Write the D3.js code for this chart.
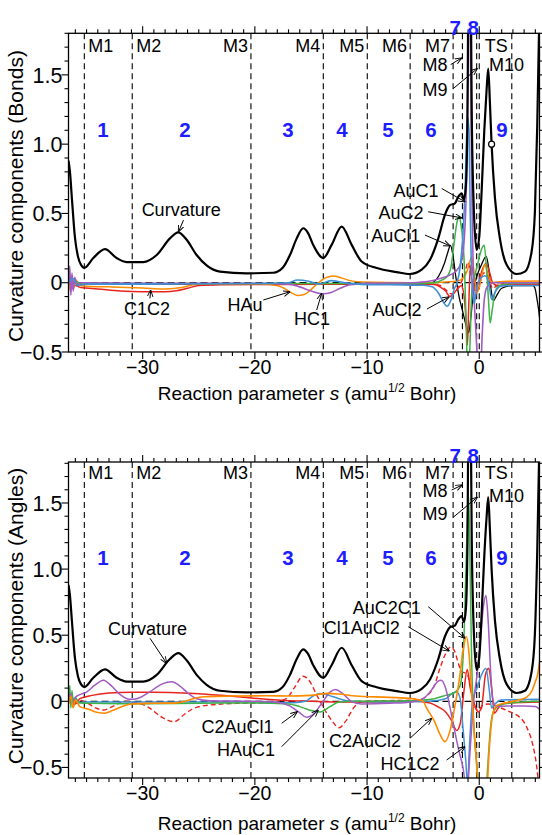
<!DOCTYPE html>
<html><head><meta charset="utf-8">
<script src="https://cdn.jsdelivr.net/npm/d3@7"></script>
<style>
body{margin:0;background:#fff;}
svg{display:block;font-family:"Liberation Sans",Arial,Helvetica,sans-serif;}
</style></head><body>
<svg id="chart" width="542" height="835"></svg>
<script>
// ---------------- data ----------------
const xDomain = [-36.61, 5.37];
const xMajorTicks = [-30, -20, -10, 0];
const xTickLabels = ["\u221230", "\u221220", "\u221210", "0"];
const yMajorTicks = [-0.5, 0, 0.5, 1.0, 1.5];
const yTickLabels = ["\u22120.5", "0", "0.5", "1.0", "1.5"];

const stationS = [-35.2, -30.93, -20.35, -13.9, -9.98, -6.16, -2.33, -1.5, -0.23, 0, 2.9];
const stationNames = ["M1","M2","M3","M4","M5","M6","M7","M8","M9","TS","M10"];
const regionNames = ["1","2","3","4","5","6","7","8","9"];
const regionS = [-33.54, -26.23, -17.05, -12.24, -8.14, -4.3, -2.15, -0.55, 2.02];

// scalar curvature (same in both panels)
const curvature = [[-36.61,0.88],[-36.48,0.80],[-36.3,0.6],[-36.04,0.33],[-35.77,0.19],[-35.5,0.13],[-35.2,0.108],
 [-34.4,0.178],[-33.36,0.242],[-32.32,0.178],[-31.43,0.149],[-29.95,0.149],[-28.75,0.2],[-27.57,0.32],[-26.83,0.364],
 [-26.08,0.31],[-25.19,0.2],[-24.3,0.125],[-23.11,0.08],[-20.73,0.068],[-18.36,0.072],[-17.5,0.11],[-16.87,0.2],
 [-16.27,0.32],[-15.69,0.393],[-15.27,0.36],[-14.8,0.273],[-13.9,0.178],[-13.16,0.273],[-12.26,0.405],[-11.37,0.273],
 [-10.48,0.153],[-9.14,0.106],[-7.36,0.077],[-6.18,0.063],[-5.13,0.094],[-4.39,0.165],[-3.65,0.32],[-3.06,0.49],
 [-2.61,0.56],[-2.17,0.573],[-1.87,0.62],[-1.57,0.645],[-1.36,0.6],[-1.19,0.7],[-1.05,1.2],[-0.94,2.4],[-0.81,2.4],
 [-0.65,1.1],[-0.47,0.5],[-0.23,0.237],[0,0.33],[0.21,0.657],[0.45,1.1],[0.66,1.4],[0.80,1.545],[0.95,1.3],[1.1,1.0],
 [1.4,0.61],[1.84,0.32],[2.44,0.13],[3.33,0.063],[4.07,0.08],[4.67,0.225],[4.96,0.51],[5.17,1.14],[5.37,2.0]];
const circleMarkerBonds = [[1.1, 1.0]];

// ---- bond components ----
const bondC1C2 = [[-36.6,-0.01],[-36.3,-0.04],[-36.0,-0.02],[-35.5,-0.035],[-34,-0.045],[-32,-0.06],[-30,-0.065],[-28,-0.065],
 [-27,-0.058],[-26,-0.04],[-25,-0.02],[-23,-0.015],[-18,-0.012],[-10,-0.01],[-5,-0.01],[-4,-0.012],[-3.5,-0.03],[-3,-0.06],
 [-2.6,-0.1],[-2.3,-0.08],[-2,-0.05],[-1.6,-0.02],[-1.35,-0.1],[-1.15,-0.3],[-1.05,-0.45],[-0.95,-0.2],[-0.8,0.1],[-0.7,0.13],
 [-0.5,0.05],[-0.25,-0.02],[0,0.02],[0.3,0.1],[0.6,0.14],[0.9,0.08],[1.2,0.0],[1.6,-0.02],[3,-0.012],[5.37,-0.012]];
const bondRedDashed = [[-36.6,0],[-35,-0.005],[-30,-0.01],[-25,-0.012],[-20,-0.012],[-15,-0.01],[-10,-0.008],[-5,-0.005],
 [-3.5,-0.02],[-3,-0.05],[-2.5,-0.08],[-2.1,-0.06],[-1.7,-0.01],[-1.3,0.06],[-1.0,0.15],[-0.8,0.08],[-0.5,-0.03],[-0.25,-0.07],
 [0.05,0.0],[0.4,0.07],[0.8,0.04],[1.2,-0.04],[1.6,-0.02],[2.5,0],[5.37,0]];
const bondHAu = [[-36.6,0.02],[-36.45,-0.06],[-36.3,0.05],[-36.15,-0.04],[-35.95,0.02],[-35.6,-0.02],[-35,-0.025],[-33,-0.03],
 [-30,-0.038],[-28,-0.045],[-26.5,-0.035],[-25.5,-0.015],[-24,-0.008],[-20,-0.008],[-18.5,-0.015],[-17.5,-0.035],[-16.8,-0.07],
 [-16.2,-0.092],[-15.6,-0.085],[-15.0,-0.05],[-14.4,-0.005],[-13.7,0.035],[-13.0,0.048],[-12.3,0.035],[-11.5,0.015],[-10.5,0.005],
 [-6,0.0],[-4,0.0],[-3,0.005],[-2,0.01],[-1.5,0.03],[-1.1,0.08],[-0.85,0.15],[-0.68,0.185],[-0.5,0.1],[-0.23,-0.075],[0.05,-0.02],
 [0.3,0.08],[0.5,0.13],[0.75,0.07],[1.1,0.0],[1.6,0.005],[2.5,0.01],[5.37,0.012]];
const bondHC1 = [[-36.6,0.0],[-36.5,0.12],[-36.4,-0.09],[-36.3,0.07],[-36.2,-0.06],[-36.05,0.04],[-35.85,-0.02],[-35.5,0.0],
 [-30,-0.004],[-20,-0.004],[-17,-0.01],[-16,-0.03],[-15,-0.06],[-14,-0.08],[-13.2,-0.07],[-12.4,-0.04],[-11.5,-0.015],[-10,-0.005],
 [-6,0.0],[-4.5,0.01],[-3.5,0.03],[-2.5,0.06],[-2.0,0.09],[-1.6,0.15],[-1.35,0.3],[-1.15,0.7],[-1.0,1.6],[-0.9,2.4],[-0.78,1.6],
 [-0.65,0.6],[-0.5,0.0],[-0.3,-0.35],[-0.1,-0.62],[0.1,-0.7],[0.25,-0.4],[0.45,-0.12],[0.7,-0.03],[1.2,0.0],[5.37,0.0]];
const bondAuC2 = [[-36.6,0.0],[-36,0.01],[-35.5,-0.005],[-30,-0.006],[-20,-0.006],[-10,-0.006],[-5,-0.005],[-4,0.0],[-3.3,0.02],
 [-2.8,0.05],[-2.5,0.12],[-2.25,0.28],[-2.0,0.43],[-1.78,0.48],[-1.6,0.4],[-1.45,0.3],[-1.27,0.0],[-1.12,-0.45],[-1.0,-0.75],
 [-0.85,-0.5],[-0.65,-0.05],[-0.4,0.05],[-0.1,0.15],[0.2,0.24],[0.44,0.27],[0.65,0.1],[0.82,-0.12],[0.97,-0.29],[1.15,-0.2],
 [1.4,-0.07],[1.8,-0.02],[3,-0.005],[5.37,0]];
const bondAuCl2 = [[-36.6,0.0],[-36.2,0.03],[-35.8,-0.02],[-35,-0.01],[-30,-0.01],[-20,-0.006],[-17,0.0],[-16.2,0.02],[-15.2,0.01],
 [-14.3,-0.01],[-13.2,0.015],[-12,0.0],[-10.5,-0.012],[-8,-0.015],[-5,-0.018],[-4.2,-0.03],[-3.6,-0.08],[-3.2,-0.14],[-2.86,-0.17],
 [-2.5,-0.12],[-2.2,-0.04],[-1.97,0.0],[-1.7,0.12],[-1.45,0.35],[-1.25,0.7],[-1.05,1.2],[-0.92,1.1],[-0.8,0.5],[-0.65,0.0],
 [-0.45,-0.15],[-0.25,-0.05],[0.1,0.03],[0.5,0.05],[0.85,0.0],[1.1,-0.12],[1.4,-0.07],[1.9,-0.025],[3,-0.02],[5.37,-0.02]];
const bondAuCl1 = [[-36.6,0.0],[-35.5,-0.01],[-30,-0.01],[-20,-0.01],[-10,-0.012],[-5,-0.01],[-4.2,0.0],[-3.6,0.05],[-3.1,0.14],
 [-2.8,0.22],[-2.57,0.27],[-2.35,0.2],[-2.1,0.05],[-1.8,-0.1],[-1.5,-0.2],[-1.2,-0.3],[-0.94,-0.36],[-0.75,-0.25],[-0.5,-0.05],
 [-0.2,0.05],[0.2,0.13],[0.62,0.19],[0.85,0.1],[1.05,-0.05],[1.27,-0.13],[1.5,-0.1],[2,-0.04],[3,-0.02],[4.8,-0.02],[5.0,-0.05],
 [5.15,-0.12],[5.3,-0.2],[5.37,-0.25]];

// ---- angle components ----
const angC2AuCl1 = [[-36.6,0.0],[-36.4,0.06],[-36.2,-0.04],[-36.0,0.03],[-35.6,0.05],[-35,0.07],[-34.3,0.12],[-33.5,0.16],
 [-32.7,0.11],[-32.0,0.05],[-31.2,0.015],[-30.5,0.02],[-29.4,0.07],[-28.3,0.13],[-27.4,0.148],[-26.6,0.11],[-26.0,0.065],
 [-25.2,0.02],[-24,0.005],[-20,0.0],[-17.8,-0.01],[-16.9,-0.035],[-16.1,-0.08],[-15.4,-0.12],[-14.7,-0.09],[-14.0,-0.01],
 [-13.3,0.07],[-12.8,0.09],[-12.2,0.06],[-11.4,0.0],[-10.5,-0.02],[-8,-0.015],[-6,-0.005],[-5,0.02],[-4.3,0.08],[-3.7,0.15],
 [-3.4,0.16],[-3.0,0.1],[-2.6,-0.05],[-2.2,-0.22],[-1.8,-0.38],[-1.45,-0.5],[-1.1,-0.7],[-0.8,-0.35],[-0.5,0.0],[-0.2,0.2],
 [0.1,0.45],[0.35,0.7],[0.6,0.8],[0.8,0.6],[1.0,0.25],[1.2,0.02],[1.5,-0.04],[2.5,-0.035],[4,-0.035],[5,-0.04],[5.37,-0.06]];
const angRedSolid = [[-36.6,0.0],[-36.3,0.03],[-36.0,-0.02],[-35.6,0.02],[-34.5,0.045],[-33,0.062],[-31,0.068],[-29,0.068],
 [-27,0.065],[-25,0.058],[-23,0.045],[-21,0.03],[-19,0.015],[-17,0.005],[-15,0.0],[-13,-0.005],[-10,-0.005],[-6,0.0],
 [-4.5,-0.01],[-3.5,-0.05],[-3.0,-0.08],[-2.5,-0.14],[-2.0,-0.22],[-1.7,-0.17],[-1.4,0.05],[-1.07,0.24],[-0.8,0.1],[-0.5,0.0],
 [-0.1,-0.08],[0.2,-0.05],[0.55,0.2],[0.85,0.25],[1.1,0.1],[1.35,-0.09],[1.7,-0.05],[2.2,-0.015],[5.37,-0.005]];
const angCl1AuCl2 = [[-36.6,0.02],[-36.2,-0.02],[-35.7,0.01],[-35,-0.01],[-34.2,-0.05],[-33.5,-0.066],[-32.7,-0.04],[-31.6,0.0],
 [-30.5,-0.01],[-29.4,-0.05],[-28.3,-0.12],[-27.2,-0.154],[-26.3,-0.1],[-25.6,-0.06],[-24.5,-0.033],[-21.5,-0.015],[-18.5,-0.01],
 [-17.2,0.02],[-16.5,0.1],[-15.7,0.19],[-15.1,0.15],[-14.5,0.05],[-13.8,-0.06],[-13.1,-0.15],[-12.5,-0.2],[-11.9,-0.15],
 [-11.2,-0.05],[-10.3,0.0],[-8,0.005],[-5.5,0.01],[-4.7,0.04],[-4.0,0.12],[-3.5,0.25],[-3.0,0.36],[-2.55,0.41],[-2.2,0.38],
 [-1.8,0.27],[-1.45,0.22],[-1.1,0.21],[-0.8,0.12],[-0.45,-0.03],[-0.1,-0.07],[0.3,-0.03],[0.8,-0.02],[1.5,-0.035],[2.2,-0.06],
 [3.0,-0.09],[3.6,-0.12],[4.2,-0.19],[4.8,-0.34],[5.1,-0.48],[5.37,-0.7]];
const angC2AuCl2 = [[-36.6,-0.02],[-36.4,0.04],[-36.2,-0.05],[-36.0,0.01],[-35.6,-0.04],[-34.8,-0.06],[-34,-0.085],[-33.4,-0.09],
 [-32.7,-0.07],[-32,-0.045],[-31,-0.02],[-29,-0.015],[-27,-0.012],[-26.2,0.0],[-25.5,0.02],[-24.5,0.035],[-22,0.04],[-19,0.042],
 [-17,0.04],[-15,0.045],[-13.5,0.06],[-12.5,0.055],[-11,0.04],[-8,0.03],[-6,0.02],[-5,0.0],[-4.7,-0.05],[-4.0,-0.15],[-3.5,-0.25],
 [-3.06,-0.305],[-2.6,-0.22],[-2.2,-0.05],[-1.8,0.15],[-1.45,0.38],[-1.15,0.49],[-0.9,0.35],[-0.6,-0.05],[-0.3,-0.4],[0.0,-0.75],
 [0.3,-0.9],[0.6,-0.8],[0.9,-0.35],[1.2,-0.1],[1.6,-0.03],[2.5,-0.01],[3.5,0.01],[4.2,0.03],[4.7,0.08],[5.0,0.15],[5.2,0.2],[5.37,0.3]];
const angHAuC1 = [[-36.6,0.0],[-36.5,0.12],[-36.4,-0.05],[-36.3,0.08],[-36.15,-0.04],[-36.0,0.03],[-35.7,-0.01],[-35,-0.015],
 [-30,-0.018],[-25,-0.015],[-20,-0.012],[-17,-0.02],[-16,-0.04],[-15,-0.07],[-14.2,-0.08],[-13.3,-0.04],[-12.5,-0.005],[-11,0.0],
 [-6,0.005],[-4,0.02],[-3,0.045],[-2.2,0.065],[-1.7,0.12],[-1.4,0.4],[-1.15,1.1],[-0.97,1.58],[-0.85,1.2],[-0.7,0.4],[-0.5,-0.15],
 [-0.2,-0.5],[0.1,-0.8],[0.45,-0.9],[0.75,-0.5],[1.0,-0.2],[1.3,-0.07],[1.8,-0.03],[3,-0.01],[5.37,0.0]];
const angHC1C2 = [[-36.6,0.0],[-36.2,0.02],[-35.8,-0.01],[-35,-0.005],[-30,-0.005],[-20,-0.005],[-16.5,-0.01],[-15.5,0.0],
 [-14.8,0.04],[-14.2,0.06],[-13.4,0.045],[-12.5,0.02],[-11.5,0.0],[-8,-0.005],[-4.5,0.0],[-3,0.02],[-2.4,0.06],[-2.0,0.07],
 [-1.7,0.02],[-1.45,-0.2],[-1.2,-0.45],[-1.05,-0.62],[-0.85,-0.3],[-0.6,0.0],[-0.2,0.1],[0.2,0.2],[0.6,0.25],[0.9,0.08],
 [1.1,-0.05],[1.4,-0.02],[2,0.01],[5.37,0.015]];

// ---- annotations: [text, s, v, arrowFromS, arrowFromV, arrowToS, arrowToV] ----
const bondNotes = [
 ["Curvature",-26.57,0.531,-26.36,0.452,-26.81,0.367],
 ["C1C2",-29.62,-0.183,-29.35,-0.113,-29.29,-0.053],
 ["HAu",-20.88,-0.154,-19.25,-0.125,-16.87,-0.065],
 ["HC1",-14.91,-0.258,-14.49,-0.197,-14.05,-0.077],
 ["AuCl2",-7.34,-0.197,-4.66,-0.19,-2.7,-0.103],
 ["AuC1",-5.64,0.668,-3.35,0.68,-1.27,0.584],
 ["AuC2",-6.98,0.506,-4.55,0.512,-1.57,0.468],
 ["AuCl1",-7.43,0.344,-4.84,0.344,-2.61,0.266],
 ["M8",-3.95,1.576,-2.55,1.574,-1.57,1.622],
 ["M9",-3.95,1.396,-2.32,1.401,-0.18,1.545],
 ["M10",2.44,1.576]
];
const angleNotes = [
 ["Curvature",-29.57,0.547,-29.35,0.477,-27.86,0.287],
 ["C2AuCl1",-21.55,-0.187,-17.61,-0.166,-16.22,-0.079],
 ["HAuC1",-20.79,-0.361,-17.61,-0.343,-14.35,-0.066],
 ["C2AuCl2",-10.19,-0.30,-6.18,-0.28,-4.24,-0.129],
 ["HC1C2",-6.18,-0.467,-2.91,-0.444,-1.27,-0.343],
 ["AuC2C1",-8.25,0.71,-4.55,0.716,-1.27,0.477],
 ["Cl1AuCl2",-10.48,0.558,-6.33,0.564,-2.67,0.38],
 ["M8",-3.95,1.592,-2.46,1.598,-1.52,1.636],
 ["M9",-3.95,1.417,-2.32,1.392,-0.18,1.543],
 ["M10",2.44,1.56]
];

// ---------------- styles / layout ----------------
const C = {blue:"#3f90d6", orange:"#ff8a00", green:"#3db247", red:"#e8241e", purple:"#a25bc2", black:"#000"};
const bondSeries = [
 {d:bondAuCl1, c:C.black, w:1.3},
 {d:bondRedDashed, c:C.red, w:1.4, dash:"5,3"},
 {d:bondC1C2, c:C.red, w:1.5},
 {d:bondHAu, c:C.orange, w:1.5},
 {d:bondAuC2, c:C.green, w:1.5},
 {d:bondHC1, c:C.purple, w:1.6},
 {d:bondAuCl2, c:C.blue, w:1.6}
];
const angleSeries = [
 {d:angRedSolid, c:C.red, w:1.5},
 {d:angCl1AuCl2, c:C.red, w:1.4, dash:"5,3"},
 {d:angHC1C2, c:C.blue, w:1.5},
 {d:angHAuC1, c:C.green, w:1.5},
 {d:angC2AuCl1, c:C.purple, w:1.5},
 {d:angC2AuCl2, c:C.orange, w:1.6}
];

const left = 68.5, right = 539.5;
const panels = [
 {top:33.3, bottom:352, yDomain:[-0.5,1.8], title:"Curvature components (Bonds)", series:bondSeries, notes:bondNotes,
  circles:circleMarkerBonds, xLabBase:374, xTitleBase:400, yTitleY:196, labelRowV:1.713, regionV:1.107, topDigitV:1.84},
 {top:462, bottom:778, yDomain:[-0.58,1.81], title:"Curvature components (Angles)", series:angleSeries, notes:angleNotes,
  circles:[], xLabBase:800, xTitleBase:830, yTitleY:616, labelRowV:1.734, regionV:1.086, topDigitV:1.862}
];

const svg = d3.select("#chart");
const defs = svg.append("defs");
defs.append("marker").attr("id","arr").attr("viewBox","0 0 10 10").attr("refX",9.5).attr("refY",5)
  .attr("markerWidth",7).attr("markerHeight",7).attr("markerUnits","userSpaceOnUse").attr("orient","auto")
  .append("path").attr("d","M0,1 L10,5 L0,9").attr("fill","none").attr("stroke","#000").attr("stroke-width",1.3);

const x = d3.scaleLinear().domain(xDomain).range([left, right]);

panels.forEach((p, pi) => {
  const y = d3.scaleLinear().domain(p.yDomain).range([p.bottom, p.top]);
  const g = svg.append("g");
  const cid = "clip" + pi;
  defs.append("clipPath").attr("id", cid).append("rect")
    .attr("x", left).attr("y", p.top).attr("width", right-left).attr("height", p.bottom-p.top);
  const plot = g.append("g").attr("clip-path", `url(#${cid})`);

  // station dashed lines
  plot.selectAll("line.st").data(stationS).join("line")
    .attr("x1", d=>x(d)).attr("x2", d=>x(d)).attr("y1", p.top).attr("y2", p.bottom)
    .attr("stroke","#000").attr("stroke-width",1.1).attr("stroke-dasharray","6,4");
  // zero line
  plot.append("line").attr("x1",left).attr("x2",right).attr("y1",y(0)).attr("y2",y(0))
    .attr("stroke","#000").attr("stroke-width",1.3).attr("stroke-dasharray","7,4");

  const line = d3.line().x(d=>x(d[0])).y(d=>y(d[1])).curve(d3.curveMonotoneX);
  p.series.forEach(s => {
    plot.append("path").attr("d", line(s.d)).attr("fill","none").attr("stroke", s.c)
      .attr("stroke-width", s.w).attr("stroke-dasharray", s.dash || null).attr("stroke-linejoin","round");
  });
  plot.append("path").attr("d", line(curvature)).attr("fill","none").attr("stroke","#000")
    .attr("stroke-width",2.2).attr("stroke-linejoin","round");
  plot.selectAll("circle.mk").data(p.circles).join("circle")
    .attr("cx", d=>x(d[0])).attr("cy", d=>y(d[1])).attr("r",3)
    .attr("fill","#fff").attr("stroke","#000").attr("stroke-width",1.2);

  // frame
  g.append("rect").attr("x",left).attr("y",p.top).attr("width",right-left).attr("height",p.bottom-p.top)
    .attr("fill","none").attr("stroke","#000").attr("stroke-width",1.3);

  // ticks
  const xMinor = d3.range(Math.ceil(xDomain[0]), Math.floor(xDomain[1])+1);
  const yMinor = d3.range(-5, 19).map(k=>k/10).filter(v=>v>=p.yDomain[0]-1e-9 && v<=p.yDomain[1]);
  const tk = g.append("g").attr("stroke","#000").attr("stroke-width",1.1);
  xMinor.forEach(v => {
    const L = (v % 10 === 0) ? 7 : 4;
    tk.append("line").attr("x1",x(v)).attr("x2",x(v)).attr("y1",p.bottom).attr("y2",p.bottom+L);
    tk.append("line").attr("x1",x(v)).attr("x2",x(v)).attr("y1",p.top).attr("y2",p.top-L);
  });
  yMinor.forEach(v => {
    const L = (Math.abs(Math.round(v*10)) % 5 === 0) ? 7 : 4;
    tk.append("line").attr("x1",left).attr("x2",left-L).attr("y1",y(v)).attr("y2",y(v));
    tk.append("line").attr("x1",right).attr("x2",right+L).attr("y1",y(v)).attr("y2",y(v));
  });

  // tick labels
  g.selectAll("text.xl").data(xMajorTicks).join("text")
    .attr("x", d=>x(d)).attr("y", p.xLabBase).attr("text-anchor","middle").attr("font-size",19.5)
    .text((d,i)=>xTickLabels[i]);
  g.selectAll("text.yl").data(yMajorTicks).join("text")
    .attr("x", left-6).attr("y", d=>y(d)).attr("dy","0.36em").attr("text-anchor","end").attr("font-size",21.5)
    .text((d,i)=>yTickLabels[i]);

  // axis titles
  const xt = g.append("text").attr("x",(left+right)/2 + 3).attr("y",p.xTitleBase).attr("text-anchor","middle").attr("font-size",19);
  xt.append("tspan").text("Reaction parameter ");
  xt.append("tspan").attr("font-style","italic").text("s");
  xt.append("tspan").text(" (amu");
  xt.append("tspan").attr("dy",-8).attr("font-size",12).text("1/2");
  xt.append("tspan").attr("dy",8).text(" Bohr)");
  g.append("text").attr("transform",`translate(23,${p.yTitleY}) rotate(-90)`).attr("text-anchor","middle")
    .attr("font-size",21).text(p.title);

  // station labels
  const yRow = y(p.labelRowV);
  stationNames.forEach((n,i) => {
    if (n==="M8"||n==="M9"||n==="M10") return;
    const after = (n==="M1"||n==="M2"||n==="TS");
    g.append("text").attr("x", x(stationS[i]) + (after ? (n==="TS"?5.5:4) : -3)).attr("y", yRow).attr("dy","0.36em")
      .attr("text-anchor", after ? "start" : "end").attr("font-size",18).text(n);
  });

  // region numbers
  regionNames.forEach((n,i) => {
    const top = (n==="7"||n==="8");
    g.append("text").attr("x", x(regionS[i])).attr("y", y(top ? p.topDigitV : p.regionV)).attr("dy","0.36em")
      .attr("text-anchor","middle").attr("font-size",20.5).attr("font-weight","bold").attr("fill","#1d1dff").text(n);
  });

  // annotations
  p.notes.forEach(a => {
    g.append("text").attr("x", x(a[1])).attr("y", y(a[2])).attr("dy","0.36em").attr("text-anchor","middle")
      .attr("font-size",18).text(a[0]);
    if (a.length > 3) {
      g.append("line").attr("x1", x(a[3])).attr("y1", y(a[4])).attr("x2", x(a[5])).attr("y2", y(a[6]))
        .attr("stroke","#000").attr("stroke-width",1).attr("marker-end","url(#arr)");
    }
  });
});
</script>
</body></html>
